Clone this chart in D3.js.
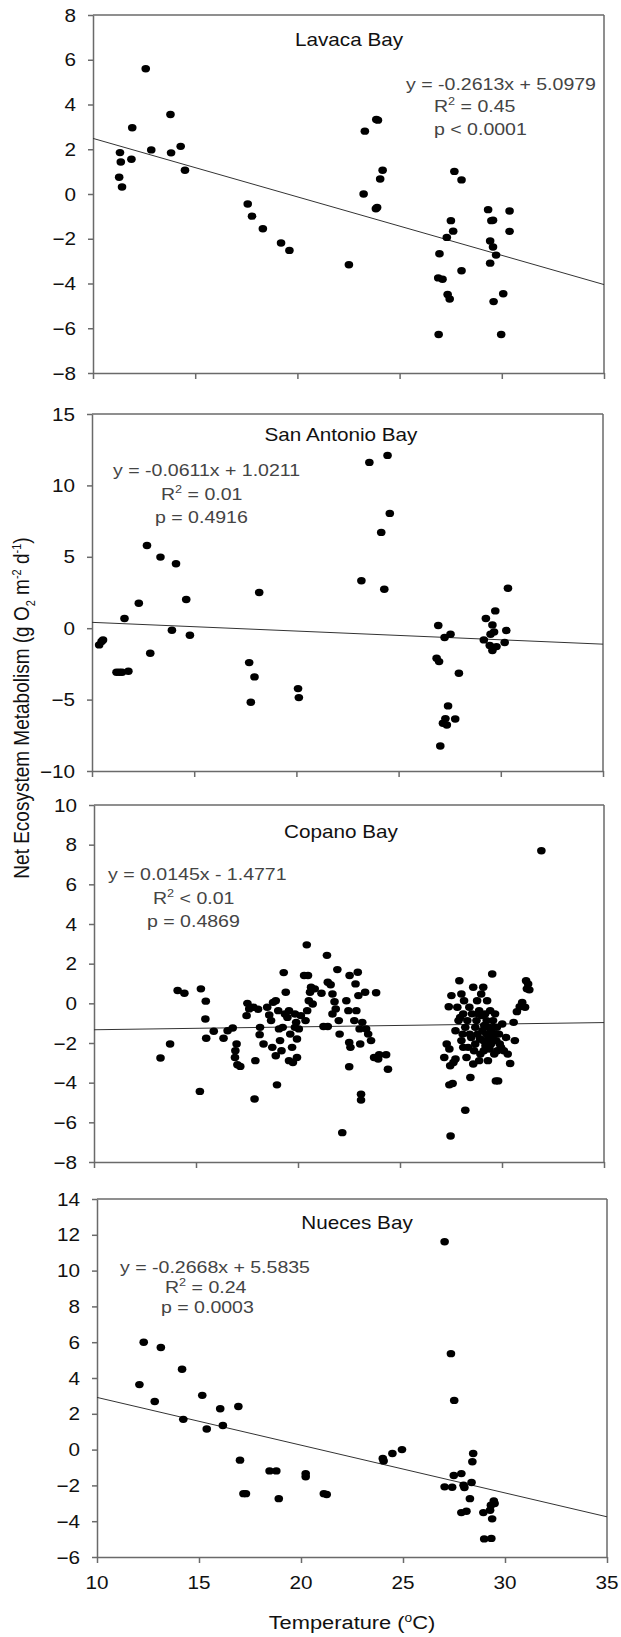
<!DOCTYPE html>
<html><head><meta charset="utf-8">
<script src="https://cdn.jsdelivr.net/npm/d3@7"></script>
<style>body{margin:0;background:#fff}svg{display:block}</style>
</head><body>
<svg id="chart" width="621" height="1637"></svg>
<script>
// ---------- DATA ----------
const xTicks = [10, 15, 20, 25, 30, 35];
const bayNames = ["Lavaca Bay", "San Antonio Bay", "Copano Bay", "Nueces Bay"];
const yTicksLavaca = [-8, -6, -4, -2, 0, 2, 4, 6, 8];
const yTicksSanAntonio = [-10, -5, 0, 5, 10, 15];
const yTicksCopano = [-8, -6, -4, -2, 0, 2, 4, 6, 8, 10];
const yTicksNueces = [-6, -4, -2, 0, 2, 4, 6, 8, 10, 12, 14];
const slopes = [-0.2613, -0.0611, 0.0145, -0.2668];
const intercepts = [5.0979, 1.0211, -1.4771, 5.5835];
const eqLabels = [
  ["y = -0.2613x + 5.0979", "R|2| = 0.45", "p < 0.0001"],
  ["y = -0.0611x + 1.0211", "R|2| = 0.01", "p = 0.4916"],
  ["y = 0.0145x - 1.4771", "R|2| < 0.01", "p = 0.4869"],
  ["y = -0.2668x + 5.5835", "R|2| = 0.24", "p = 0.0003"]
];

const lavacaT = [11.32,11.36,11.28,11.42,11.88,11.92,12.58,12.85,13.79,13.82,14.29,14.50,17.57,17.78,18.31,19.20,19.61,22.52,23.24,23.30,23.86,23.94,23.84,23.90,24.05,24.17,26.91,26.95,26.89,27.10,27.35,27.45,27.31,27.51,27.62,27.68,28.03,28.03,29.33,29.49,29.57,29.43,29.57,29.72,29.43,29.60,30.07,29.97,30.38,30.38];
const lavacaNEM = [1.85,1.43,0.75,0.31,1.55,2.96,5.60,1.97,3.55,1.84,2.13,1.06,-0.45,-0.99,-1.55,-2.19,-2.52,-3.16,0.00,2.81,3.33,3.30,-0.66,-0.60,0.67,1.06,-6.28,-2.67,-3.75,-3.81,-4.49,-4.69,-1.94,-1.19,-1.66,1.01,0.63,-3.43,-0.70,-1.19,-1.17,-2.10,-2.37,-2.73,-3.09,-4.81,-4.46,-6.28,-0.76,-1.67];

const sanAntonioT = [10.35,10.47,10.54,11.20,11.34,11.47,11.78,11.59,12.29,12.69,12.85,13.35,14.11,13.91,14.61,14.79,17.69,17.95,17.77,18.18,20.08,20.12,23.18,23.57,24.46,24.15,24.57,24.30,26.94,26.86,26.98,27.25,27.54,27.95,27.04,27.17,27.36,27.29,27.42,27.77,29.17,29.27,29.59,29.73,29.50,29.67,29.46,29.59,29.79,30.19,30.27,30.35];
const sanAntonioNEM = [-1.17,-0.93,-0.82,-3.08,-3.08,-3.08,-3.01,0.68,1.75,5.79,-1.75,4.98,4.51,-0.14,2.01,-0.49,-2.41,-3.41,-5.19,2.50,-4.23,-4.86,3.32,11.61,12.10,6.71,8.04,2.73,0.19,-2.10,-2.34,-0.65,-0.42,-3.15,-8.25,-6.66,-6.78,-6.33,-5.44,-6.36,-0.82,0.68,0.23,1.21,-0.42,-0.26,-1.21,-1.57,-1.29,-1.00,-0.16,2.80];

const copanoT = [13.26,13.73,14.10,14.43,15.19,15.24,15.48,15.46,15.50,15.87,16.35,16.55,16.80,16.99,16.93,16.91,17.03,17.17,17.52,17.48,17.61,17.81,18.04,17.91,17.87,18.14,18.12,18.31,18.49,18.59,18.68,18.78,18.91,18.74,18.91,18.97,19.03,19.07,19.12,19.19,19.30,19.25,19.36,19.40,19.48,19.56,19.62,19.56,19.71,19.75,19.85,19.91,19.95,19.95,19.85,20.04,20.14,20.30,20.43,20.37,20.49,20.45,20.53,20.59,20.64,20.82,20.72,21.15,21.25,21.42,21.46,21.46,21.60,21.69,21.69,21.79,21.85,21.93,22.04,22.00,22.17,22.37,22.47,22.51,22.53,22.51,22.57,22.76,22.82,22.86,22.93,22.96,23.02,23.05,23.09,23.09,23.15,23.29,23.34,23.44,23.58,23.73,23.83,23.93,23.98,24.32,24.41,
27.17,27.29,27.39,27.42,27.52,27.48,27.42,27.58,27.62,27.46,27.72,27.91,28.01,27.95,28.07,28.10,28.14,28.20,28.26,28.30,28.40,28.45,28.49,28.59,28.63,28.69,28.78,28.84,28.88,28.92,28.98,29.04,29.08,29.11,29.17,29.23,29.27,29.31,29.37,29.42,29.46,29.52,29.56,29.62,29.66,29.70,29.81,29.75,29.89,30.01,30.09,30.20,30.28,30.40,30.57,30.63,30.73,30.87,30.99,31.13,31.18,31.28,31.22,31.34,31.93,
27.72,27.81,27.87,28.01,28.10,28.20,28.34,28.42,28.53,28.59,28.69,28.75,28.80,28.88,28.94,29.02,29.08,29.13,29.19,29.25,29.33,29.39,29.46,29.52,29.60,29.66,29.72,29.77,29.85,29.95];
const copanoNEM = [-2.76,-2.05,0.65,0.51,-4.44,0.73,0.11,-0.79,-1.76,-1.41,-1.76,-1.38,-1.24,-2.05,-2.39,-2.73,-3.10,-3.18,0.00,-0.62,-0.28,-0.20,-0.30,-2.89,-4.82,-1.21,-1.58,-2.05,-0.20,-0.59,-0.87,0.05,0.13,-2.22,-2.64,-4.11,-0.37,-1.29,-1.88,-2.39,1.55,-1.21,-0.54,0.56,-0.71,-0.37,-1.55,-2.89,-2.22,-2.98,-0.54,-0.96,-1.80,-2.73,-1.21,-1.29,-0.62,1.40,2.95,-0.87,1.40,-0.37,0.13,0.56,0.81,0.73,-0.03,0.51,-1.17,2.42,-1.17,1.06,0.94,0.47,-0.54,0.08,-0.28,1.70,-1.55,-0.87,-6.52,0.13,-0.37,-3.20,1.40,-1.97,-2.22,-0.87,0.98,-0.37,1.57,0.39,-1.29,-2.05,-4.58,-4.88,-0.96,0.56,-1.29,-1.55,-1.88,-2.73,0.53,-2.81,-2.59,-2.59,-3.32,
-2.73,-2.05,-0.17,-2.30,0.39,-6.69,-4.11,-4.04,-2.98,-3.15,-2.81,1.14,0.47,-0.71,-1.55,-2.22,0.13,-5.39,-2.73,-0.87,-0.20,-3.74,-1.72,0.81,-2.39,-1.21,0.13,-0.54,-2.89,-1.80,0.47,-1.38,0.81,-2.39,-0.54,-1.55,0.13,-2.89,-1.21,-0.37,-2.05,1.48,-0.87,-2.56,-1.55,-3.91,-3.91,-1.21,-2.05,-1.04,-2.39,-1.72,-2.56,-3.03,-0.96,-1.88,-0.42,-0.17,0.05,-0.20,1.14,0.98,0.73,0.68,7.69,
-1.38,-0.20,-0.87,-1.88,-0.53,-1.21,-2.22,-1.55,-0.53,-3.06,-2.05,-0.87,-1.55,-0.37,-2.56,-0.62,-1.88,-1.12,-2.14,-0.87,-1.80,-2.30,-1.38,-1.71,-1.21,-0.53,-1.88,-2.39,-1.55,-2.22];

const nuecesT = [12.08,12.29,12.83,13.13,14.17,14.23,15.16,15.38,16.04,16.17,16.93,17.01,17.18,17.30,18.46,18.79,18.91,20.23,20.23,21.12,21.26,24.01,24.05,24.48,24.95,27.04,27.35,27.51,27.04,27.41,27.49,27.86,27.97,28.01,27.86,28.11,28.28,28.36,28.44,28.40,28.94,28.98,29.33,29.31,29.27,29.45,29.49,29.37];
const nuecesNEM = [3.63,6.00,2.69,5.70,4.49,1.69,3.03,1.15,2.28,1.35,2.41,-0.59,-2.46,-2.46,-1.19,-1.19,-2.74,-1.34,-1.52,-2.46,-2.51,-0.50,-0.63,-0.22,0.00,11.61,5.36,2.75,-2.08,-2.10,-1.45,-1.34,-1.99,-2.12,-3.52,-3.44,-2.74,-1.84,-0.22,-0.68,-3.52,-4.99,-4.96,-3.11,-3.39,-2.87,-3.01,-3.87];

// ---------- LAYOUT ----------
const FONT = "'Liberation Sans', Arial, sans-serif";
const SX = 1.15; // horizontal stretch of the original figure
const panels = [
  {T: lavacaT, V: lavacaNEM, ticks: yTicksLavaca, box: [93, 604, 15, 373], title: [349, 46], eq: [[406, 90], [434, 112], [434, 135]]},
  {T: sanAntonioT, V: sanAntonioNEM, ticks: yTicksSanAntonio, box: [92, 603, 414, 771], title: [341, 441], eq: [[113, 476], [161, 500], [155, 523]]},
  {T: copanoT, V: copanoNEM, ticks: yTicksCopano, box: [94, 604, 805, 1162], title: [341, 838], eq: [[108, 880], [153, 904], [147, 927]]},
  {T: nuecesT, V: nuecesNEM, ticks: yTicksNueces, box: [97, 607, 1199, 1557], title: [357, 1229], eq: [[120, 1273], [165, 1293], [161, 1313]]}
];

const svg = d3.select("#chart");
const AX = "#6a6a6a";

function stretchedText(g, x, y, anchor, size, fill) {
  return g.append("text")
    .attr("transform", `translate(${x},${y}) scale(${SX},1)`)
    .attr("text-anchor", anchor)
    .attr("font-family", FONT)
    .attr("font-size", size)
    .attr("fill", fill);
}

panels.forEach((p, i) => {
  const [L, R, Tp, B] = p.box;
  const yMin = d3.min(p.ticks), yMax = d3.max(p.ticks);
  const x = d3.scaleLinear().domain([d3.min(xTicks), d3.max(xTicks)]).range([L, R]);
  const y = d3.scaleLinear().domain([yMin, yMax]).range([B, Tp]);
  const g = svg.append("g");

  const ya = g.append("g").attr("transform", `translate(${L},0)`)
    .call(d3.axisLeft(y).tickValues(p.ticks).tickSize(5).tickSizeOuter(0));
  ya.select(".domain").attr("stroke", AX).attr("stroke-width", 1.5);
  ya.selectAll(".tick line").attr("stroke", AX).attr("stroke-width", 1.5);
  ya.selectAll(".tick text").remove();
  p.ticks.forEach(t => {
    stretchedText(g, L - 17, y(t) + 6.5, "end", 18, "#111").text(d3.format("d")(t));
  });

  const xa = g.append("g").attr("transform", `translate(0,${B})`)
    .call(d3.axisBottom(x).tickValues(xTicks).tickSize(6).tickSizeOuter(0));
  xa.select(".domain").attr("stroke", AX).attr("stroke-width", 1.5);
  xa.selectAll(".tick line").attr("stroke", AX).attr("stroke-width", 1.5);
  xa.selectAll(".tick text").remove();
  if (i === panels.length - 1) {
    xTicks.forEach(t => stretchedText(g, x(t), B + 32, "middle", 18, "#111").text(t));
  }
  g.append("line").attr("x1", x.range()[0]).attr("x2", x.range()[1]).attr("y1", y(yMax)).attr("y2", y(yMax))
    .attr("stroke", AX).attr("stroke-width", 1.5);
  g.append("line").attr("x1", x.range()[1]).attr("x2", x.range()[1]).attr("y1", y(yMax)).attr("y2", y(yMin))
    .attr("stroke", AX).attr("stroke-width", 1.5);

  const x0 = x.domain()[0], x1 = x.domain()[1];
  g.append("line")
    .attr("x1", x(x0)).attr("y1", y(slopes[i] * x0 + intercepts[i]))
    .attr("x2", x(x1)).attr("y2", y(slopes[i] * x1 + intercepts[i]))
    .attr("stroke", "#333").attr("stroke-width", 1);

  g.append("g").selectAll("ellipse").data(p.T.map((t, k) => [t, p.V[k]])).join("ellipse")
    .attr("cx", d => x(d[0])).attr("cy", d => y(d[1]))
    .attr("rx", 4.3).attr("ry", 3.7).attr("fill", "#000");

  stretchedText(g, p.title[0], p.title[1], "middle", 18, "#111").text(bayNames[i]);

  eqLabels[i].forEach((s, k) => {
    const t = stretchedText(g, p.eq[k][0], p.eq[k][1], "start", 17, "#444");
    const parts = s.split("|");
    t.append("tspan").text(parts[0]);
    if (parts.length > 1) {
      t.append("tspan").attr("dy", -7).attr("font-size", 11).text(parts[1]);
      t.append("tspan").attr("dy", 7).text(parts[2]);
    }
  });
});

const xt = stretchedText(svg, 352, 1629, "middle", 19, "#111");
xt.append("tspan").text("Temperature (");
xt.append("tspan").attr("dy", -7).attr("font-size", 12).text("o");
xt.append("tspan").attr("dy", 7).text("C)");

const yt = svg.append("text")
  .attr("transform", "translate(29,708) rotate(-90) scale(1,1.15)")
  .attr("text-anchor", "middle").attr("font-family", FONT).attr("font-size", 19).attr("fill", "#111");
yt.append("tspan").text("Net Ecosystem Metabolism (g O");
yt.append("tspan").attr("dy", 5).attr("font-size", 11).text("2");
yt.append("tspan").attr("dy", -5).text(" m");
yt.append("tspan").attr("dy", -7).attr("font-size", 11).text("-2");
yt.append("tspan").attr("dy", 7).text(" d");
yt.append("tspan").attr("dy", -7).attr("font-size", 11).text("-1");
yt.append("tspan").attr("dy", 7).text(")");
</script>
</body></html>
